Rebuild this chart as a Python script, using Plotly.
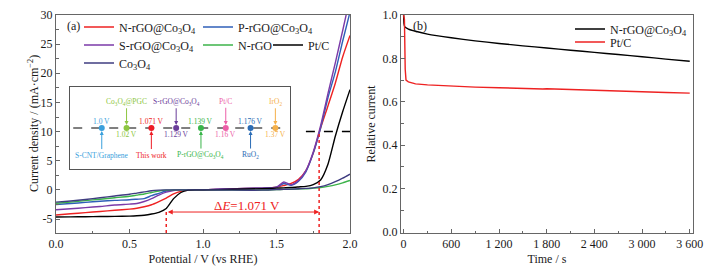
import plotly.graph_objects as go

# ---------------- data: panel (a) LSV curves ----------------
potential = [0, 0.1, 0.2, 0.3, 0.4, 0.5, 0.55, 0.6, 0.65, 0.7, 0.75, 0.8, 0.85, 0.9, 0.95,
             1.0, 1.2, 1.4, 1.5, 1.55, 1.6, 1.65, 1.7, 1.75, 1.8, 1.85, 1.9, 1.95, 2.0]
j_N_rGO_Co3O4 = [-4.3, -4.1, -3.9, -3.7, -3.5, -3.3, -3.15, -2.9, -2.55, -2.0, -1.4, -0.7, -0.25, -0.05, 0,
                 0, 0.2, 0.3, 0.45, 0.75, 1.1, 1.8, 3.3, 6.3, 10.6, 14.4, 18.3, 22.8, 26.5]
j_P_rGO_Co3O4 = [-2.5, -2.35, -2.15, -1.95, -1.8, -1.7, -1.6, -1.5, -1.0, -0.6, -0.2, -0.05, 0, 0, 0,
                 0, 0.2, 0.3, 0.45, 1.1, 0.8, 1.5, 3.1, 6.3, 10.6, 15.8, 20.2, 25.5, 30.5]
j_S_rGO_Co3O4 = [-3.4, -3.25, -3.05, -2.85, -2.6, -2.45, -2.35, -2.0, -1.5, -0.9, -0.4, -0.1, 0, 0, 0,
                 0, 0.2, 0.3, 0.45, 1.35, 0.85, 1.6, 3.3, 6.5, 11.0, 16.5, 21.8, 27.3, 33.0]
j_N_rGO = [-2.3, -2.1, -1.85, -1.6, -1.35, -1.1, -0.9, -0.7, -0.45, -0.2, -0.05, 0, 0, 0, 0,
           0, -0.05, -0.05, 0.05, 0.08, 0.1, 0.15, 0.2, 0.3, 0.4, 0.6, 0.85, 1.2, 1.6]
j_Pt_C = [-4.65, -4.63, -4.6, -4.58, -4.55, -4.5, -4.45, -4.35, -4.15, -3.85, -3.2, -1.5, -0.45, -0.05, 0,
          0, 0.1, 0.2, 0.3, 0.35, 0.4, 0.5, 0.6, 0.9, 1.7, 4.4, 9.2, 13.4, 17.2]
j_Co3O4 = [-2.1, -1.9, -1.65, -1.35, -1.05, -0.75, -0.55, -0.35, -0.15, -0.05, 0, 0, 0, 0, 0,
           0, -0.05, -0.05, 0.05, 0.08, 0.12, 0.18, 0.25, 0.35, 0.55, 0.9, 1.4, 2.0, 2.7]

series_a_names = ["N-rGO@Co<sub>3</sub>O<sub>4</sub>", "P-rGO@Co<sub>3</sub>O<sub>4</sub>",
                  "S-rGO@Co<sub>3</sub>O<sub>4</sub>", "N-rGO", "Pt/C", "Co<sub>3</sub>O<sub>4</sub>"]
series_a_values = [j_N_rGO_Co3O4, j_P_rGO_Co3O4, j_S_rGO_Co3O4, j_N_rGO, j_Pt_C, j_Co3O4]

onset_ORR = 0.75       # V, Pt/C ORR reference
potential_j10 = 1.79   # V, potential at 10 mA cm-2
delta_E = 1.071
j_ref = 10
j_arrow = -3.8
j_onset_mark = -3.4

# ---------------- data: panel (a) inset (ΔE comparison) ----------------
inset_names = ["S-CNT/Graphene", "Co<sub>3</sub>O<sub>4</sub>@PGC", "This work",
               "S-rGO@Co<sub>3</sub>O<sub>4</sub>", "P-rGO@Co<sub>3</sub>O<sub>4</sub>", "Pt/C",
               "RuO<sub>2</sub>", "IrO<sub>2</sub>"]
inset_volts = [1.0, 1.02, 1.071, 1.129, 1.139, 1.16, 1.176, 1.37]
inset_volt_labels = ["1.0 V", "1.02 V", "1.071 V", "1.129 V", "1.139 V", "1.16 V", "1.176 V", "1.37 V"]
inset_order = list(range(len(inset_names)))

# ---------------- data: panel (b) chronoamperometry ----------------
t_N_rGO_Co3O4 = [0, 5, 15, 60, 150, 300, 600, 900, 1200, 1500, 1800, 2100, 2400, 2700, 3000, 3300, 3600]
r_N_rGO_Co3O4 = [1.0, 0.96, 0.945, 0.935, 0.925, 0.912, 0.895, 0.881, 0.869, 0.858, 0.848, 0.838, 0.828,
                 0.818, 0.808, 0.797, 0.787]
t_Pt_C = [0, 10, 20, 30, 60, 150, 300, 600, 900, 1200, 1500, 1650, 1700, 1750, 1800, 2100, 2400, 2700,
          3000, 3300, 3600]
r_Pt_C = [1.0, 0.98, 0.75, 0.70, 0.692, 0.683, 0.678, 0.672, 0.668, 0.665, 0.662, 0.660, 0.657, 0.659,
          0.660, 0.656, 0.652, 0.649, 0.646, 0.643, 0.640]

# tick labels
a_x_ticks = [0, 0.5, 1.0, 1.5, 2.0]
a_x_ticktext = ["0.0", "0.5", "1.0", "1.5", "2.0"]
a_y_ticks = [-5, 0, 5, 10, 15, 20, 25, 30]
a_y_ticktext = ["-5", "0", "5", "10", "15", "20", "25", "30"]
b_x_ticks = [0, 600, 1200, 1800, 2400, 3000, 3600]
b_x_ticktext = ["0", "600", "1 200", "1 800", "2 400", "3 000", "3 600"]
b_y_ticks = [0, 0.2, 0.4, 0.6, 0.8, 1.0]
b_y_ticktext = ["0.0", "0.2", "0.4", "0.6", "0.8", "1.0"]

# ---------------- styling / layout helpers ----------------
W, H = 714, 266
MT, MB = 15, 33
FONT = "Liberation Serif"
TXT = "#1a1a1a"
AXC = "#666666"


def fx(px):
    return px / W


def fy(py):
    return (H - MB - py) / (H - MT - MB)


colors_a = ["#ee2222", "#2f5fb8", "#7b3aa8", "#3cb34a", "#000000", "#3f3c80"]
inset_colors = ["#3aa0dc", "#8dc641", "#ee1c25", "#6a3d9a", "#39b54a", "#ec5fa8", "#2b6cb5", "#f5b04a"]

fig = go.Figure()

legend_names_a = ["legend", "legend2", "legend3", "legend4", "legend5", "legend6"]
for name, vals, col, lg in zip(series_a_names, series_a_values, colors_a, legend_names_a):
    fig.add_trace(go.Scatter(x=potential, y=vals, mode="lines", name=name,
                             line=dict(color=col, width=1.4, shape="spline", smoothing=0.6),
                             xaxis="x", yaxis="y", legend=lg))

fig.add_trace(go.Scatter(x=t_N_rGO_Co3O4, y=r_N_rGO_Co3O4, mode="lines",
                         name="N-rGO@Co<sub>3</sub>O<sub>4</sub>",
                         line=dict(color="#000000", width=1.4, shape="spline", smoothing=0.5),
                         xaxis="x2", yaxis="y2", legend="legend7"))
fig.add_trace(go.Scatter(x=t_Pt_C, y=r_Pt_C, mode="lines", name="Pt/C",
                         line=dict(color="#ee2222", width=1.4), xaxis="x2", yaxis="y2", legend="legend8"))

# inset markers
fig.add_trace(go.Scatter(x=inset_order, y=[0] * len(inset_order), mode="markers",
                         marker=dict(color=inset_colors, size=6), showlegend=False,
                         xaxis="x3", yaxis="y3", hoverinfo="text", text=inset_volt_labels))

annotations = []
shapes = []

# inset labels
for i, (nm, vl, col) in enumerate(zip(inset_names, inset_volt_labels, inset_colors)):
    above = (i % 2 == 1)
    name_y = 0.64 if above else -0.66
    volt_y = -0.17 if above else 0.16
    annotations.append(dict(x=i, y=0, xref="x3", yref="y3", ax=i, ay=name_y, axref="x3", ayref="y3",
                            text=nm, showarrow=True, arrowhead=2, arrowsize=0.8, arrowwidth=1,
                            arrowcolor=col, standoff=3, font=dict(family=FONT, size=7.5, color=col)))
    annotations.append(dict(x=i, y=volt_y, xref="x3", yref="y3", text=vl, showarrow=False,
                            font=dict(family=FONT, size=7.5, color=col)))

shapes.append(dict(type="line", xref="x3", yref="y3", x0=-1.15, x1=7.5, y0=0, y1=0,
                   line=dict(color="#000", width=1, dash="dash"), layer="below"))

# panel a reference lines
shapes.append(dict(type="line", xref="x", yref="y", x0=1.7, x1=2.0, y0=j_ref, y1=j_ref,
                   line=dict(color="#000", width=1.5, dash="dash")))
shapes.append(dict(type="line", xref="x", yref="y", x0=onset_ORR, x1=onset_ORR, y0=-7.4, y1=j_onset_mark,
                   line=dict(color="#ee2222", width=1.5, dash="dot")))
shapes.append(dict(type="line", xref="x", yref="y", x0=potential_j10, x1=potential_j10, y0=-7.4, y1=j_ref,
                   line=dict(color="#ee2222", width=1.5, dash="dot")))
annotations.append(dict(x=potential_j10, y=j_arrow, ax=onset_ORR, ay=j_arrow, xref="x", yref="y",
                        axref="x", ayref="y", text="", showarrow=True, arrowside="end+start",
                        arrowhead=2, arrowsize=1, arrowwidth=1, arrowcolor="#ee2222"))
annotations.append(dict(x=(onset_ORR + potential_j10) / 2 + 0.03, y=-2.6, xref="x", yref="y",
                        text="Δ<i>E</i>=%.3f V" % delta_E, showarrow=False,
                        font=dict(family=FONT, size=13, color="#ee2222")))
annotations.append(dict(x=0.12, y=28.1, xref="x", yref="y", text="(a)", showarrow=False,
                        font=dict(family=FONT, size=12, color=TXT)))
annotations.append(dict(x=210, y=0.95, xref="x2", yref="y2", text="(b)", showarrow=False,
                        font=dict(family=FONT, size=12, color=TXT)))
# y-axis title of panel (a)
annotations.append(dict(x=fx(33), y=fy(124), xref="paper", yref="paper", textangle=-90,
                        text="Current density / (mA·cm<sup>−2</sup>)", showarrow=False,
                        xanchor="center", yanchor="middle",
                        font=dict(family=FONT, size=12, color=TXT)))

tickfont = dict(family=FONT, size=12, color=TXT)
titlefont = dict(family=FONT, size=12, color=TXT)
common_axis = dict(showline=True, linecolor=AXC, linewidth=1, mirror=True, ticks="inside", ticklen=4,
                   tickcolor=AXC, showgrid=False, zeroline=False, tickfont=tickfont, automargin=False)

legend_common = dict(bgcolor="rgba(0,0,0,0)", borderwidth=0, font=dict(family=FONT, size=12, color=TXT),
                     xanchor="left", yanchor="middle", itemwidth=30, tracegroupgap=0)
legend_pos = {
    "legend": (79, 27), "legend2": (198, 27), "legend3": (79, 45), "legend4": (198, 45),
    "legend5": (268, 45), "legend6": (79, 63), "legend7": (570, 29), "legend8": (570, 42),
}
legend_layout = {k: dict(legend_common, x=fx(px), y=fy(py)) for k, (px, py) in legend_pos.items()}

fig.update_layout(
    width=W, height=H, margin=dict(l=0, r=0, t=MT, b=MB),
    paper_bgcolor="white", plot_bgcolor="rgba(0,0,0,0)",
    font=dict(family=FONT, size=12, color=TXT),
    xaxis=dict(common_axis, domain=[fx(56), fx(350)], range=[0, 2], tickvals=a_x_ticks,
               ticktext=a_x_ticktext, minor=dict(dtick=0.25, tick0=0, ticks="inside", ticklen=2.5,
                                                 tickcolor=AXC),
               title=dict(text="Potential / V (vs RHE)", font=titlefont, standoff=4), anchor="y"),
    yaxis=dict(common_axis, domain=[0, 1], range=[-7.4, 30], tickvals=a_y_ticks, ticktext=a_y_ticktext,
               minor=dict(dtick=2.5, tick0=0, ticks="inside", ticklen=2.5, tickcolor=AXC),
               anchor="x"),
    xaxis2=dict(common_axis, domain=[fx(401), fx(693)], range=[-33, 3641], tickvals=b_x_ticks,
                ticktext=b_x_ticktext, minor=dict(dtick=300, tick0=0, ticks="inside", ticklen=2.5,
                                                  tickcolor=AXC),
                title=dict(text="Time / s", font=titlefont, standoff=4), anchor="y2"),
    yaxis2=dict(common_axis, domain=[0, 1], range=[-0.004, 1.0], tickvals=b_y_ticks,
                ticktext=b_y_ticktext, minor=dict(dtick=0.1, tick0=0, ticks="inside", ticklen=2.5,
                                                  tickcolor=AXC),
                title=dict(text="Relative current", font=titlefont, standoff=4), anchor="x2"),
    xaxis3=dict(domain=[fx(70), fx(290)], range=[-1.28, 7.59], showline=True, mirror=True,
                linecolor="#555", linewidth=1, showticklabels=False, ticks="", showgrid=False,
                zeroline=False, anchor="y3", fixedrange=True),
    yaxis3=dict(domain=[fy(169), fy(87)], range=[-1, 1], showline=True, mirror=True,
                linecolor="#555", linewidth=1, showticklabels=False, ticks="", showgrid=False,
                zeroline=False, anchor="x3", fixedrange=True),
    annotations=annotations, shapes=shapes, showlegend=True,
    **legend_layout,
)

fig.write_html("out.html", config={"displayModeBar": False},
               post_script="document.body.style.margin='0';document.body.style.padding='0';"
                           "document.body.style.overflow='hidden';")
